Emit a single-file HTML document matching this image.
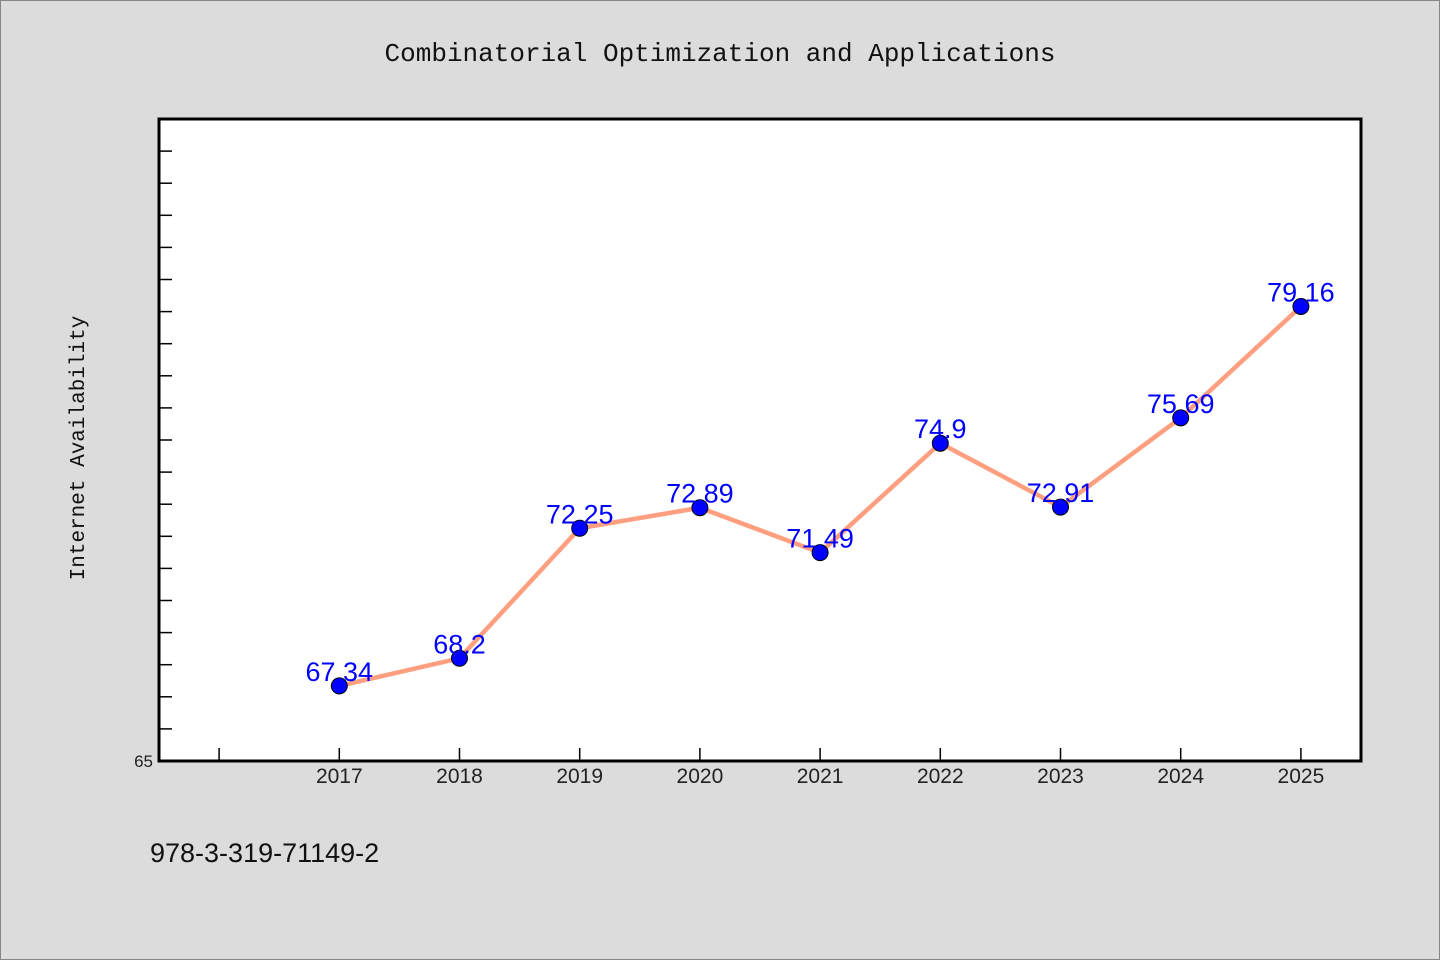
<!DOCTYPE html>
<html><head><meta charset="utf-8"><style>
html,body{margin:0;padding:0;background:#dcdcdc;}
svg{display:block}
</style></head><body>
<svg id="chart" width="1440" height="960" xmlns="http://www.w3.org/2000/svg">
<rect x="0.5" y="0.5" width="1439" height="959" fill="#dcdcdc" stroke="#888"/>
<text x="720" y="61" text-anchor="middle" font-family="'Liberation Mono',monospace" font-size="26" fill="#111">Combinatorial Optimization and Applications</text>
<rect x="159" y="119" width="1202" height="642" fill="#fff"/>
<g id="ticks"></g>
<g id="series"></g>
<rect x="159" y="119" width="1202" height="642" fill="none" stroke="#000" stroke-width="3"/>
<text transform="translate(84,448) rotate(-90)" text-anchor="middle" font-family="'Liberation Mono',monospace" font-size="21" fill="#111">Internet Availability</text>
<text x="150" y="862" font-family="'WenQuanYi Zen Hei','Liberation Sans',sans-serif" font-size="27" fill="#111">978-3-319-71149-2</text>
</svg>
<script>
const categories = [2017, 2018, 2019, 2020, 2021, 2022, 2023, 2024, 2025];
const values = [67.34, 68.2, 72.25, 72.89, 71.49, 74.9, 72.91, 75.69, 79.16];
const valueLabels = ["67.34", "68.2", "72.25", "72.89", "71.49", "74.9", "72.91", "75.69", "79.16"];
const yMin = 65, yMax = 85;
const xMin = 2015.5, xMax = 2025.5;
const L = 159, R = 1361, T = 119, B = 761;
const NS = 'http://www.w3.org/2000/svg';
function xs(v){ return L + (v - xMin) / (xMax - xMin) * (R - L); }
function ys(v){ return B - (v - yMin) / (yMax - yMin) * (B - T); }
function mk(tag, attrs, parent){ const e = document.createElementNS(NS, tag); for (const k in attrs) e.setAttribute(k, attrs[k]); parent.appendChild(e); return e; }
const ticks = document.getElementById('ticks');
const font = "'WenQuanYi Zen Hei','Liberation Sans',sans-serif";
for (let v = yMin + 1; v < yMax; v++) {
  const t = mk('line', {x1: L, x2: L + 13, y1: ys(v), y2: ys(v), stroke: '#000', 'stroke-width': 1.5}, ticks);
  
  
}
const yl = mk('text', {x: 153, y: ys(yMin) + 6, 'text-anchor': 'end', 'font-family': font, 'font-size': 17, fill: '#222'}, ticks);
yl.textContent = String(yMin);


const xt = mk('line', {x1: xs(2016), x2: xs(2016), y1: B, y2: B - 13, stroke: '#000', 'stroke-width': 1.5}, ticks);


categories.forEach(c => {
  const t = mk('line', {x1: xs(c), x2: xs(c), y1: B, y2: B - 13, stroke: '#000', 'stroke-width': 1.5}, ticks);
  
  
  const l = mk('text', {x: xs(c), y: B + 22, 'text-anchor': 'middle', 'font-family': font, 'font-size': 21, fill: '#222'}, ticks);
  l.textContent = String(c);
  
  
});
const s = document.getElementById('series');
const pts = categories.map((c, i) => xs(c) + ',' + ys(values[i])).join(' ');
const line = mk('polyline', {points: pts, fill: 'none', stroke: '#ff9f7f', 'stroke-width': 4.5, 'stroke-linejoin': 'round'}, s);


categories.forEach((c, i) => {
  const p = mk('circle', {cx: xs(c), cy: ys(values[i]), r: 8, fill: '#0000ff', stroke: '#000', 'stroke-width': 1}, s);
  
  
  const l = mk('text', {x: xs(c), y: ys(values[i]) - 5, 'text-anchor': 'middle', 'font-family': font, 'font-size': 27, fill: '#0000ff'}, s);
  l.textContent = valueLabels[i];
  
  
});
</script>
</body></html>
